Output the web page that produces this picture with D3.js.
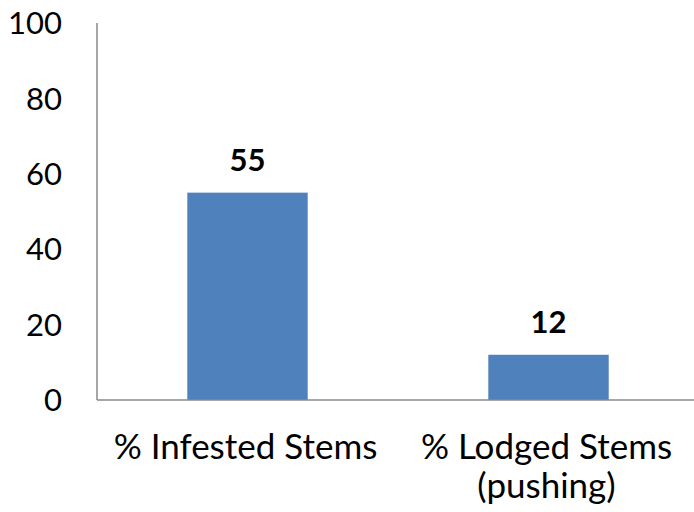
<!DOCTYPE html>
<html>
<head>
<meta charset="utf-8">
<script src="https://cdn.jsdelivr.net/npm/d3@7.9.0/dist/d3.min.js"></script>
<style>
  body { margin: 0; background: #fff; }
  svg { display: block; font-family: Lato, "Open Sans", sans-serif; }
</style>
</head>
<body>
<svg id="chart" width="694" height="512"></svg>
<script>
// chart data
const categories = ['% Infested Stems', '% Lodged Stems (pushing)'];
const values = [55, 12];
const yTicks = [0, 20, 40, 60, 80, 100];

const svg = d3.select('#chart');
const margin = { left: 97, top: 23, right: -5, bottom: 112 };
const width = 694 - margin.left - margin.right;
const height = 512 - margin.top - margin.bottom;

const g = svg.append('g').attr('transform', `translate(${margin.left},${margin.top})`);

const x = d3.scaleBand().domain(categories).range([0, width])
    .paddingInner(0.6).paddingOuter(0.3);
const y = d3.scaleLinear().domain([0, 100]).range([height, 0]);

// y axis line + labels
g.append('line')
    .attr('x1', 0).attr('x2', 0)
    .attr('y1', y(100)).attr('y2', y(0))
    .attr('stroke', '#888').attr('stroke-width', 1.5);

g.selectAll('.ytick').data(yTicks).enter().append('text')
    .attr('class', 'ytick')
    .attr('x', -35)
    .attr('y', d => y(d))
    .attr('dy', '0.36em')
    .attr('text-anchor', 'end')
    .attr('font-size', 31)
    .text(d => d);

// bars
g.selectAll('rect').data(values).enter().append('rect')
    .attr('x', (d, i) => x(categories[i]))
    .attr('width', x.bandwidth())
    .attr('y', d => y(d))
    .attr('height', d => y(0) - y(d))
    .attr('fill', '#4f81bd');

// value labels
g.selectAll('.val').data(values).enter().append('text')
    .attr('class', 'val')
    .attr('x', (d, i) => x(categories[i]) + x.bandwidth() / 2)
    .attr('y', d => y(d) - 22)
    .attr('text-anchor', 'middle')
    .attr('font-size', 31)
    .attr('font-weight', 'bold')
    .text(d => d);

// x axis line
g.append('line')
    .attr('x1', 0).attr('x2', 597)
    .attr('y1', y(0)).attr('y2', y(0))
    .attr('stroke', '#888').attr('stroke-width', 1.5);

// category labels, wrapped like the original
const wrapped = { '% Lodged Stems (pushing)': ['% Lodged Stems', '(pushing)'] };
categories.forEach(c => {
    const lines = wrapped[c] || [c];
    const cx = x(c) + x.bandwidth() / 2 - 2;
    const t = g.append('text')
        .attr('text-anchor', 'middle')
        .attr('font-size', 35)
        .attr('x', cx)
        .attr('y', height + 59);
    lines.forEach((l, i) => {
        t.append('tspan')
            .attr('x', cx)
            .attr('dy', i === 0 ? 0 : 39)
            .text(l);
    });
});
</script>
</body>
</html>
